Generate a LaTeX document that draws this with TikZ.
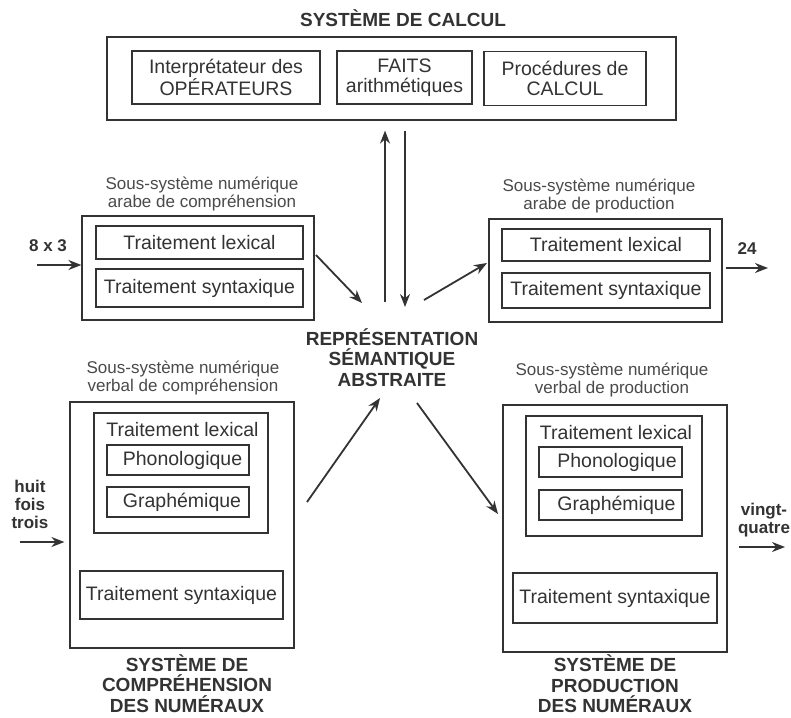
\documentclass[tikz,border=0pt]{standalone}
\usepackage{fontspec}
\setmainfont{Liberation Sans}
\usetikzlibrary{arrows.meta}
\definecolor{ink}{HTML}{333333}
\definecolor{soft}{HTML}{4a4a4a}
\begin{document}
\begin{tikzpicture}[x=1pt,y=-1pt,
  box/.style={draw=ink, line width=1.2pt, inner sep=0pt, text=ink, font=\fontsize{19.5}{20.5}\selectfont, align=center},
  lbl/.style={text=soft, font=\fontsize{17}{18}\selectfont, align=center, inner sep=0pt},
  ttl/.style={text=ink, font=\bfseries\fontsize{19}{20.5}\selectfont, align=center, inner sep=0pt},
  io/.style={text=ink, font=\bfseries\fontsize{17}{18}\selectfont, align=center, inner sep=0pt},
  arr/.style={draw=ink, line width=1.8pt, -{Stealth[length=13pt,width=10pt]}}]
\useasboundingbox[fill=white] (0,0) rectangle (791,717);

% --- Système de calcul
\node[ttl] (tcalc) at (403,18) {SYSTÈME DE CALCUL};
\node[box, minimum width=569pt, minimum height=83pt] (calc) at (391.5,78.5) {};
\node[box, minimum width=188pt, minimum height=53pt] (interp) at (226,77.5) {Interprétateur des\\OPÉRATEURS};
\node[box, minimum width=135pt, minimum height=53pt] (faits) at (404.5,77.5) {FAITS\\arithmétiques};
\node[box, minimum width=162pt, minimum height=54pt] (proc) at (565,78.5) {Procédures de\\CALCUL};

% --- Représentation sémantique
\node[ttl] (rep) at (392,357.5) {REPRÉSENTATION\\SÉMANTIQUE\\ABSTRAITE};

% --- arabe compréhension
\node[lbl] (larabc) at (202,194.5) {Sous-système numérique\\arabe de compréhension};
\node[box, minimum width=232pt, minimum height=104pt] (arabc) at (198,268) {};
\node[box, minimum width=207pt, minimum height=33pt] (arabclex) at (199.5,242.5) {Traitement lexical};
\node[box, minimum width=207pt, minimum height=38pt] (arabcsyn) at (199.5,288) {Traitement syntaxique};
\node[io] (in8) at (48,246) {8 x 3};

% --- arabe production
\node[lbl] (larabp) at (599,196) {Sous-système numérique\\arabe de production};
\node[box, minimum width=233pt, minimum height=103pt] (arabp) at (605.5,270.5) {};
\node[box, minimum width=208pt, minimum height=32pt] (arabplex) at (606,245) {Traitement lexical};
\node[box, minimum width=208pt, minimum height=35pt] (arabpsyn) at (606,290.5) {Traitement syntaxique};
\node[io] (out24) at (747,249) {24};

% --- verbal compréhension
\node[lbl] (lverbc) at (183,377.5) {Sous-système numérique\\verbal de compréhension};
\node[box, minimum width=224pt, minimum height=246pt] (verbc) at (182,525) {};
\node[box, minimum width=174pt, minimum height=120pt] (verbclex) at (181,473) {};
\node[box, draw=none] (verbclext) at (182.5,430) {Traitement lexical};
\node[box, minimum width=142pt, minimum height=30pt] (verbcpho) at (178,460) {\hspace*{9pt}Phonologique};
\node[box, minimum width=142pt, minimum height=30pt] (verbcgra) at (178,502) {\hspace*{8pt}Graphémique};
\node[box, minimum width=203pt, minimum height=48pt] (verbcsyn) at (181.5,595) {Traitement syntaxique};
\node[io] (inhuit) at (30,504) {huit\\fois\\trois};
\node[ttl] (tcomp) at (187,683.5) {SYSTÈME DE\\COMPRÉHENSION\\DES NUMÉRAUX};

% --- verbal production
\node[lbl] (lverbp) at (612,380) {Sous-système numérique\\verbal de production};
\node[box, minimum width=224pt, minimum height=247pt] (verbp) at (615,528.5) {};
\node[box, minimum width=176pt, minimum height=120pt] (verbplex) at (614,476) {};
\node[box, draw=none] (verbplext) at (616,433) {Traitement lexical};
\node[box, minimum width=143pt, minimum height=30pt] (verbppho) at (610.5,462) {\hspace*{13pt}Phonologique};
\node[box, minimum width=143pt, minimum height=30pt] (verbpgra) at (610.5,505) {\hspace*{12pt}Graphémique};
\node[box, minimum width=204pt, minimum height=50pt] (verbpsyn) at (615,598) {Traitement syntaxique};
\node[io] (outvq) at (764,520) {vingt-\\quatre};
\node[ttl] (tprod) at (615,684) {SYSTÈME DE\\PRODUCTION\\DES NUMÉRAUX};

% --- connector end points
\coordinate (upA) at (385,302);
\coordinate (dnB) at (405,307);
\coordinate (acA) at (316,255);
\coordinate (acB) at (362,303);
\coordinate (apA) at (424,300);
\coordinate (apB) at (487,263);
\coordinate (vcA) at (307,502);
\coordinate (vcB) at (380,398);
\coordinate (vpA) at (417,403);
\coordinate (vpB) at (498,514);
\coordinate (i8) at (37,265);
\coordinate (o24) at (768,268);
\coordinate (ihuit) at (20,542);
\coordinate (ovq) at (785,547);

% --- connectors
\draw[arr] (upA) -- ([yshift=-10pt]upA |- calc.south);
\draw[arr] ([yshift=-10pt]dnB |- calc.south) -- (dnB);
\draw[arr] (acA) -- (acB);
\draw[arr] (apA) -- (apB);
\draw[arr] (vcA) -- (vcB);
\draw[arr] (vpA) -- (vpB);
\draw[arr] (i8) -- (i8 -| arabc.west);
\draw[arr] ([xshift=3pt]o24 -| arabp.east) -- (o24);
\draw[arr] (ihuit) -- ([xshift=-5pt]ihuit -| verbc.west);
\draw[arr] ([xshift=11pt]ovq -| verbp.east) -- (ovq);
\end{tikzpicture}
\end{document}
